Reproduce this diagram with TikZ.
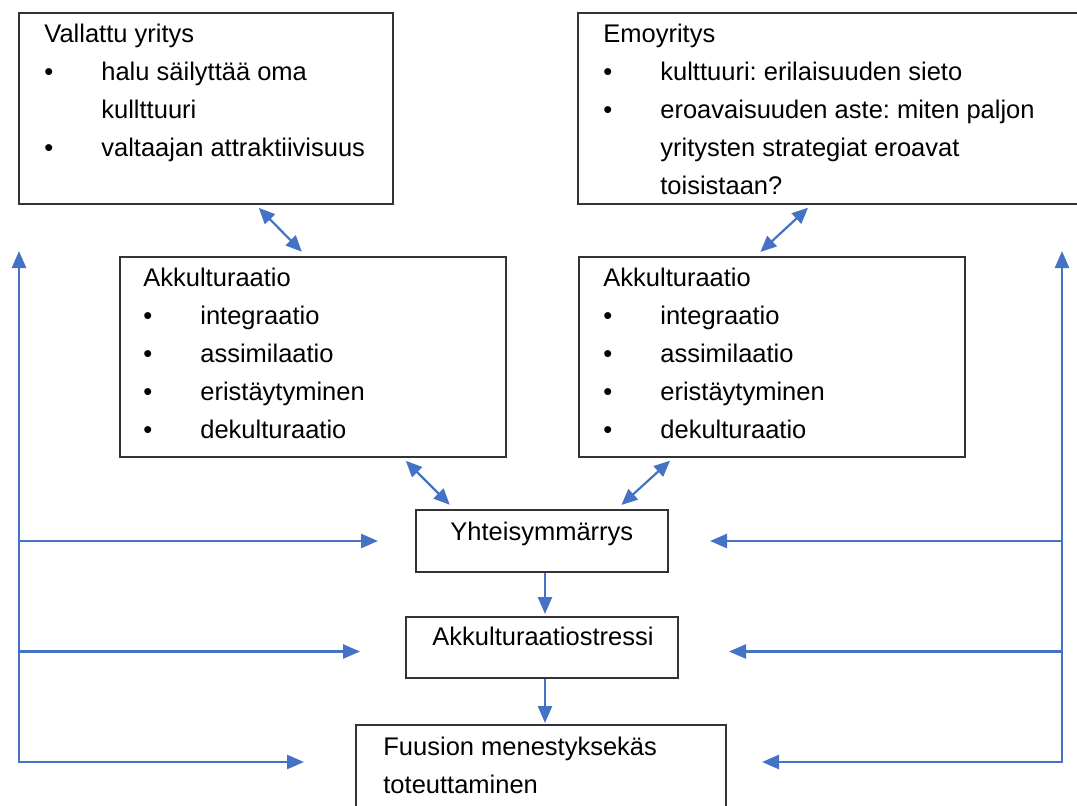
\documentclass[tikz,border=0pt]{standalone}
\usepackage{fontspec}
\setmainfont{Liberation Sans}
\usetikzlibrary{arrows.meta}
\frenchspacing

\definecolor{sininen}{HTML}{4472C4}
\definecolor{reuna}{HTML}{333333}

\newcommand{\kohta}{\makebox[28.5pt][l]{\textbullet}}
\newcommand{\jatko}{\hspace*{28.5pt}}

\tikzset{
  laatikko/.style={draw=reuna, line width=1pt, anchor=north west, inner sep=0pt},
  sisalto/.style={anchor=north west, inner sep=0pt, align=left, font=\fontsize{12.75pt}{19pt}\selectfont},
  kaksi/.style={>={Triangle[length=8pt, width=7pt]}, line width=1.1pt, sininen, shorten <=2pt, shorten >=3pt},
  paluu/.style={>={Triangle[length=8.5pt, width=7pt]}, line width=1.3pt, sininen},
}

\begin{document}
\begin{tikzpicture}[x=0.5pt, y=-0.5pt]
    \useasboundingbox (0, 0) rectangle (1077, 805);
    \clip (0, 0) rectangle (1077, 805);

    \node[laatikko, minimum width=187pt, minimum height=95.5pt] (vallattu) at (18, 12) {};
    \node[laatikko, minimum width=256.5pt, minimum height=95.5pt] (emo) at (577, 12) {};
    \node[laatikko, minimum width=193pt, minimum height=100pt] (akkuV) at (119, 256) {};
    \node[laatikko, minimum width=193pt, minimum height=100pt] (akkuE) at (578, 256) {};
    \node[laatikko, minimum width=126pt, minimum height=31pt] (yhteis) at (415, 509) {};
    \node[laatikko, minimum width=136pt, minimum height=30.5pt] (stressi) at (405, 616) {};
    \node[laatikko, minimum width=185pt, minimum height=53pt] (fuusio) at (355, 724) {};

    \node[sisalto] (vallattuteksti) at ([xshift=13pt, yshift=-5.8pt]vallattu.north west)
      {Vallattu yritys\\ \kohta halu säilyttää oma\\ \jatko kullttuuri\\ \kohta valtaajan attraktiivisuus};
    \node[sisalto] (emoteksti) at ([xshift=13pt, yshift=-5.8pt]emo.north west)
      {Emoyritys\\ \kohta kulttuuri: erilaisuuden sieto\\ \kohta eroavaisuuden aste: miten paljon\\ \jatko yritysten strategiat eroavat\\ \jatko toisistaan?};
    \node[sisalto] (akkuVteksti) at ([xshift=12pt, yshift=-5.8pt]akkuV.north west)
      {Akkulturaatio\\ \kohta integraatio\\ \kohta assimilaatio\\ \kohta eristäytyminen\\ \kohta dekulturaatio};
    \node[sisalto] (akkuEteksti) at ([xshift=12.5pt, yshift=-5.8pt]akkuE.north west)
      {Akkulturaatio\\ \kohta integraatio\\ \kohta assimilaatio\\ \kohta eristäytyminen\\ \kohta dekulturaatio};
    \node[sisalto] (yhteisteksti) at ([xshift=17.5pt, yshift=-6.3pt]yhteis.north west) {Yhteisymmärrys};
    \node[sisalto] (stressiteksti) at ([xshift=13.5pt, yshift=-5.3pt]stressi.north west) {Akkulturaatiostressi};
    \node[sisalto] (fuusioteksti) at ([xshift=14pt, yshift=-6.3pt]fuusio.north west)
      {Fuusion menestyksekäs\\ toteuttaminen};

    \draw[kaksi, <->] ([xshift=25pt]vallattu.south) -- ([xshift=-3.5pt]akkuV.north);
    \draw[kaksi, <->] ([xshift=-11.75pt]emo.south) -- ([xshift=-8pt]akkuE.north);
    \draw[kaksi, <->] ([xshift=45pt]akkuV.south) -- ([xshift=-44pt]yhteis.north);
    \draw[kaksi, <->] ([xshift=-49.5pt]akkuE.south) -- ([xshift=37.5pt]yhteis.north);

    \draw[paluu, ->, shorten >=1pt] ([xshift=1.5pt]yhteis.south) -- ([xshift=1.5pt]yhteis.south |- stressi.north);
    \draw[paluu, ->, shorten >=0.5pt] ([xshift=1.5pt]yhteis.south |- stressi.south) -- ([xshift=1.5pt]yhteis.south |- fuusio.north);

    \coordinate (vasenYla) at (19, 251);
    \coordinate (vasenAla) at (19, 762);
    \coordinate (oikeaYla) at (1062, 251);
    \coordinate (oikeaAla) at (1062, 762);

    \draw[paluu, <->, shorten >=25.5pt] (vasenYla) -- (vasenAla) -- (vasenAla -| fuusio.west);
    \draw[paluu, ->, shorten >=18.5pt] (yhteis.west -| vasenAla) -- (yhteis.west);
    \draw[paluu, ->, shorten >=22.5pt] ([yshift=-2pt]stressi.west -| vasenAla) -- ([yshift=-2pt]stressi.west);

    \draw[paluu, <->, shorten >=17.5pt] (oikeaYla) -- (oikeaAla) -- (oikeaAla -| fuusio.east);
    \draw[paluu, ->, shorten >=20.5pt] (yhteis.east -| oikeaAla) -- (yhteis.east);
    \draw[paluu, ->, shorten >=25pt] ([yshift=-2pt]stressi.east -| oikeaAla) -- ([yshift=-2pt]stressi.east);
  \end{tikzpicture}
\end{document}
